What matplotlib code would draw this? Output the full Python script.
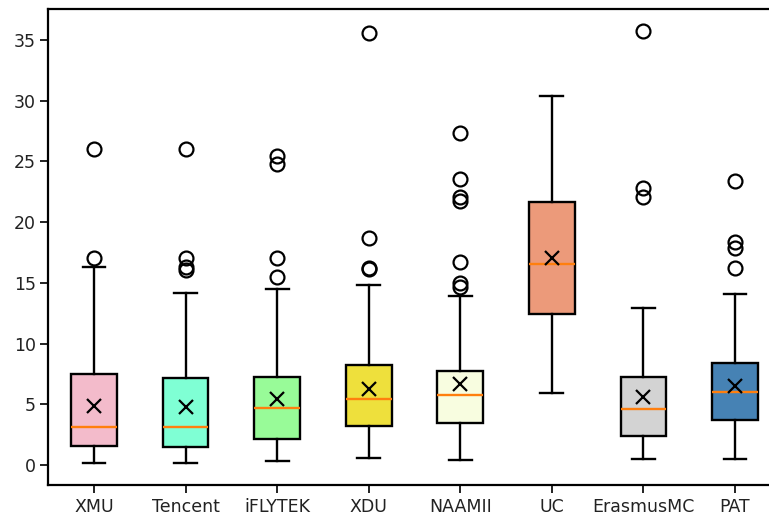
import matplotlib
matplotlib.use('Agg')
import matplotlib.pyplot as plt

# labels and box statistics
labels = ['XMU', 'Tencent', 'iFLYTEK', 'XDU', 'NAAMII', 'UC', 'ErasmusMC', 'PAT']
whislo = [0.14, 0.14, 0.36, 0.58, 0.38, 5.96, 0.49, 0.52]
q1 = [1.6, 1.51, 2.17, 3.18, 3.43, 12.43, 2.39, 3.71]
med = [3.16, 3.16, 4.69, 5.41, 5.79, 16.55, 4.58, 5.98]
mean = [4.86, 4.8, 5.46, 6.29, 6.67, 17.07, 5.63, 6.53]
q3 = [7.47, 7.19, 7.25, 8.24, 7.74, 21.63, 7.27, 8.43]
whishi = [16.33, 14.19, 14.49, 14.8, 13.94, 30.36, 12.93, 14.05]
fliers = [
    [17.07, 26.02],
    [16.06, 16.33, 17.07, 26.02],
    [15.51, 17.07, 24.76, 25.45],
    [16.1, 16.2, 18.72, 35.6],
    [14.69, 14.96, 16.74, 21.74, 22.1, 23.52, 27.37],
    [],
    [22.1, 22.84, 35.69],
    [16.2, 17.84, 18.34, 23.39],
]
colors = ['#F3BBCB', '#7FFFD4', '#98FB98', '#EEE03C', '#F8FDE0', '#EC9A7A', '#D3D3D3', '#4682B4']

stats = []
for i in range(len(labels)):
    stats.append({'label': labels[i], 'whislo': whislo[i], 'q1': q1[i], 'med': med[i],
                  'mean': mean[i], 'q3': q3[i], 'whishi': whishi[i], 'fliers': fliers[i]})

fig = plt.figure(figsize=(7.69, 5.17), dpi=100)
ax = fig.add_axes([48.2 / 769, 32 / 517, 732.6 / 769, 475.5 / 517])

bp = ax.bxp(stats, showmeans=True, patch_artist=True,
            boxprops=dict(linewidth=1.7, edgecolor='black'),
            whiskerprops=dict(linewidth=1.7),
            capprops=dict(linewidth=1.7),
            medianprops=dict(color='#FF7F0E', linewidth=1.7),
            meanprops=dict(marker='x', markeredgecolor='black', markersize=9.5, markeredgewidth=1.6),
            flierprops=dict(marker='o', markerfacecolor='none', markeredgecolor='black',
                            markersize=10, markeredgewidth=1.6))
for patch, c in zip(bp['boxes'], colors):
    patch.set_facecolor(c)

ax.set_xlim(0.5, 8.5)
ax.set_ylim(-1.65, 37.5)
ax.set_yticks([0, 5, 10, 15, 20, 25, 30, 35])
ax.tick_params(labelsize=12.5, length=5.5, width=1.4, colors='#222222')
for s in ax.spines.values():
    s.set_linewidth(1.6)

plt.savefig('out.png', dpi=100)
